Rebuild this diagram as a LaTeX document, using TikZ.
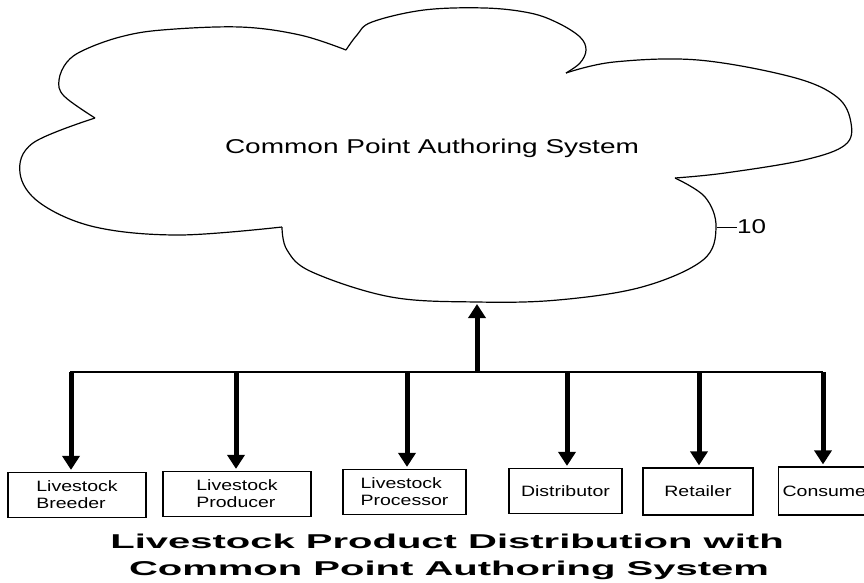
\documentclass[tikz,border=0pt]{standalone}
\usepackage{fontspec}
\setmainfont{Liberation Sans}
\newfontfamily\cloudfont[FakeStretch=1.4]{Liberation Sans}
\newfontfamily\boxfont[FakeStretch=1.3]{Liberation Sans}
\newfontfamily\titlefont[FakeStretch=2.0]{Liberation Sans}
\usetikzlibrary{arrows.meta,positioning}

\tikzset{
  unitbox/.style={draw, line width=1.2pt, rectangle, minimum height=45pt,
    inner sep=2pt, align=left, font=\boxfont\fontsize{15}{17}\selectfont},
  feed/.style={line width=5pt, -{Triangle[width=17pt,length=14pt]}},
  lobe/.style={line width=1.2pt},
}

\begin{document}
\begin{tikzpicture}[x=1pt, y=-1pt]
    \useasboundingbox (0,0) rectangle (864,582);

    % Cloud, one lobe at a time (notch to notch)
    \draw[lobe] plot[smooth, tension=0.6] coordinates {(95,118) (64,96) (59,80) (67,62) (84,50) (120,37) (162,30) (240,27) (300,35) (346,50)};
    \draw[lobe] plot[smooth, tension=0.6] coordinates {(346,50) (357,35) (372,22) (424,10) (485,8) (530,13) (558,23) (580,37) (586,50) (580,63) (566,73)};
    \draw[lobe] plot[smooth, tension=0.6] coordinates {(566,73) (614,62) (698,60) (792,77) (837,97) (851,123) (845,145) (804,160) (725,173) (675,178)};
    \draw[lobe] plot[smooth, tension=0.6] coordinates {(675,178) (705,197) (716,227) (703,260) (642,287) (558,300) (477,302) (391,297) (312,272) (287,250) (282,227)};
    \draw[lobe] plot[smooth, tension=0.6] coordinates {(282,227) (179,235) (95,227) (40,203) (20,173) (33,143) (95,118)};
    \node[font=\cloudfont\fontsize{20}{24}\selectfont] (cpas) at (432,148) {Common Point Authoring System};

    % Reference numeral
    \coordinate (lead) at (717,227);
    \node[anchor=west, inner sep=0pt, font=\boxfont\fontsize{20}{24}\selectfont] (ref) at (737,227) {10};
    \draw[line width=1pt] (lead) -- (ref.west);

    % Participants
    \node[unitbox, minimum width=138pt] (breeder) at (77,495) {Livestock\\Breeder};
    \node[unitbox, minimum width=148pt] (producer) at (237,494) {Livestock\\Producer};
    \node[unitbox, minimum width=123pt] (processor) at (404.5,492) {Livestock\\Processor};
    \node[unitbox, minimum width=113pt] (distributor) at (565.5,491) {Distributor};
    \node[unitbox, minimum width=110pt, minimum height=47pt] (retailer) at (698,491.5) {Retailer};
    \node[unitbox, anchor=west, minimum height=48pt, inner sep=4pt] (consumer) at (778,491) {Consumer};

    % Bus and arrows
    \coordinate (busL) at (70,372);
    \coordinate (busR) at (823,372);
    \coordinate (cloudbot) at (477,304);
    \draw[line width=1.5pt] (busL) -- (busR);
    \draw[feed] (cloudbot |- busL) -- (cloudbot);
    \draw[feed, shorten >=2pt] (71,372) -- (71,372 |- breeder.north);
    \draw[feed, shorten >=2pt] (236,372) -- (236,372 |- producer.north);
    \draw[feed, shorten >=2pt] (407,372) -- (407,372 |- processor.north);
    \draw[feed, shorten >=2pt] (567,372) -- (567,372 |- distributor.north);
    \draw[feed, shorten >=2pt] (699,372) -- (699,372 |- retailer.north);
    \draw[feed, shorten >=2pt] (823,372) -- (823,372 |- consumer.north);

    % Caption
    \node[anchor=base, font=\titlefont\bfseries\fontsize{20}{24}\selectfont] (title1) at (447,548) {Livestock Product Distribution with};
    \node[anchor=base, font=\titlefont\bfseries\fontsize{20}{24}\selectfont] (title2) at (449,575) {Common Point Authoring System};
\end{tikzpicture}
\end{document}
